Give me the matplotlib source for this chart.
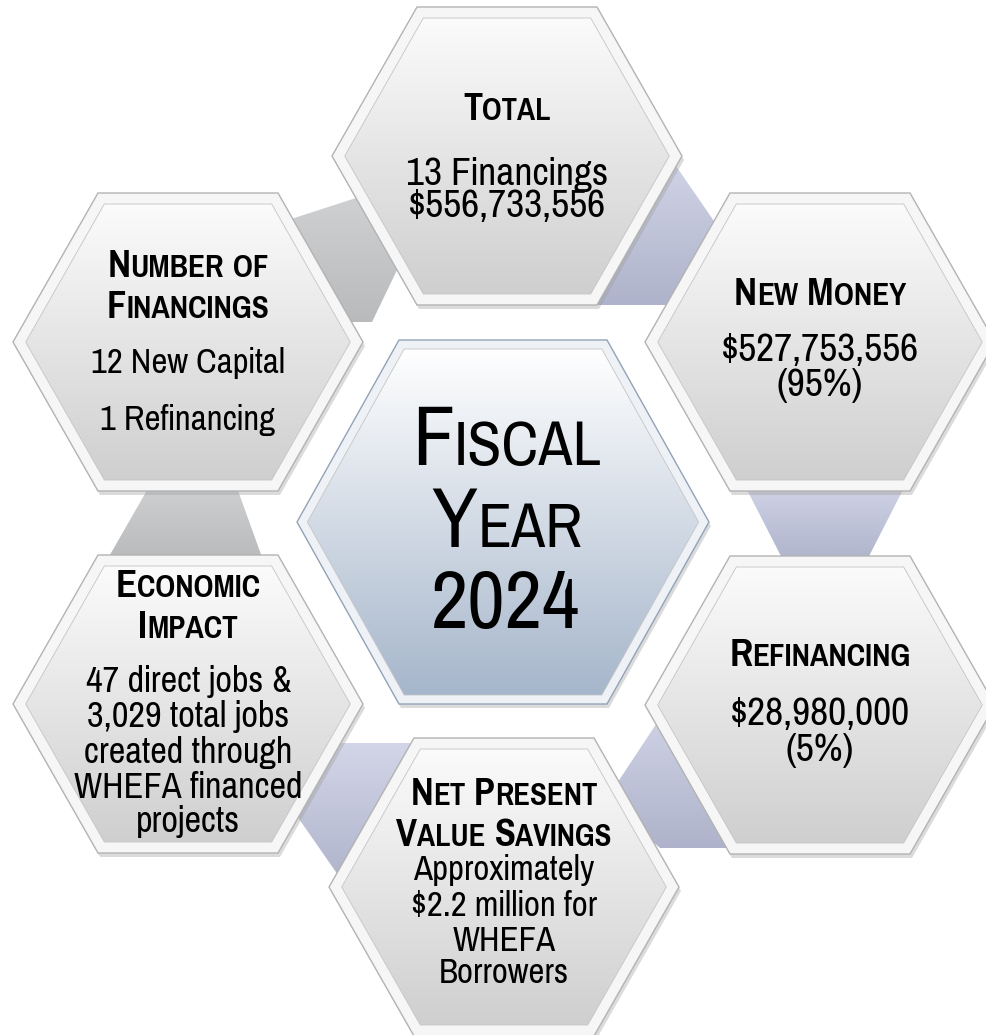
import matplotlib
matplotlib.use('Agg')
import matplotlib.pyplot as plt
from matplotlib.patches import Polygon
from matplotlib.colors import LinearSegmentedColormap
import numpy as np

FONT = ['Pragati Narrow', 'Roboto Condensed', 'Liberation Sans']
ALT_FONT = ['Roboto Condensed', 'Liberation Sans']   # used for '&'

# ---------------- data ----------------
center_lines = ['Fiscal', 'Year', '2024']

total_header = ['Total']
total_body = ['13 Financings', '$556,733,556']

number_header = ['Number of', 'Financings']
number_body = ['12 New Capital', '1 Refinancing']

newmoney_header = ['New Money']
newmoney_body = ['$527,753,556', '(95%)']

refi_header = ['Refinancing']
refi_body = ['$28,980,000', '(5%)']

npv_header = ['Net Present', 'Value Savings']
npv_body = ['Approximately', '$2.2 million for', 'WHEFA', 'Borrowers']

econ_header = ['Economic', 'Impact']
econ_body = ['47 direct jobs &', '3,029 total jobs', 'created through',
             'WHEFA financed', 'projects']

# ---------------- figure ----------------
W, H = 986, 1035
fig = plt.figure(figsize=(W / 100, H / 100), dpi=100)
ax = fig.add_axes([0, 0, 1, 1])
ax.set_xlim(0, W)
ax.set_ylim(H, 0)
ax.axis('off')
fig.patch.set_facecolor('white')


def hex_verts(cx, cy, R, Hh, a):
    return [(cx - R, cy), (cx - a, cy - Hh), (cx + a, cy - Hh),
            (cx + R, cy), (cx + a, cy + Hh), (cx - a, cy + Hh)]


def gradient_poly(verts, top, bottom, z, edge='none', lw=0):
    poly = Polygon(verts, closed=True, facecolor='none', edgecolor=edge, lw=lw, zorder=z + 0.01)
    ax.add_patch(poly)
    clip = Polygon(verts, closed=True, facecolor='none', edgecolor='none')
    ax.add_patch(clip)
    xs = [v[0] for v in verts]
    ys = [v[1] for v in verts]
    cmap = LinearSegmentedColormap.from_list('g', [top, bottom])
    grad = np.linspace(0, 1, 256).reshape(-1, 1)
    im = ax.imshow(grad, cmap=cmap, extent=(min(xs), max(xs), max(ys), min(ys)),
                   aspect='auto', zorder=z, interpolation='bicubic')
    im.set_clip_path(clip)
    return poly


def bevel_hex(cx, cy, R, Hh, a, face_top, face_bot, rim, rim_edge, z, d=11):
    sh = Polygon(hex_verts(cx + 2, cy + 4, R, Hh, a), closed=True,
                 facecolor='#9a9a9a', edgecolor='none', alpha=0.35, zorder=z - 0.2)
    ax.add_patch(sh)
    rimp = Polygon(hex_verts(cx, cy, R, Hh, a), closed=True,
                   facecolor=rim, edgecolor=rim_edge, lw=1.0, zorder=z)
    ax.add_patch(rimp)
    gradient_poly(hex_verts(cx, cy, R - 1.155 * d, Hh - d, a - 0.577 * d),
                  face_top, face_bot, z + 0.1, edge='#c4c4c4', lw=0.6)


# connectors (hidden partly behind outer hexagons)
gray_top, gray_bot = '#cfd0d2', '#b9babc'
blue_top, blue_bot = '#d3d6e8', '#aeb3cb'
connectors = [
    ([(285, 221), (356, 198), (398, 268), (372, 322), (340, 322)], gray_top, gray_bot),
    ([(665, 150), (727, 240), (700, 305), (590, 305)], blue_top, blue_bot),
    ([(742, 480), (908, 480), (866, 562), (784, 562)], blue_top, blue_bot),
    ([(672, 700), (760, 848), (660, 848), (606, 800)], blue_top, blue_bot),
    ([(320, 743), (430, 743), (345, 885), (290, 806)], blue_top, blue_bot),
    ([(150, 485), (236, 485), (263, 560), (107, 560)], gray_top, gray_bot),
]
for verts, c1, c2 in connectors:
    gradient_poly(verts, c1, c2, 1)

# outer hexagons
R_o, H_o, A_o = 175, 149, 90
outer_centers = {
    'total': (507, 156),
    'number': (188, 342),
    'newmoney': (820, 342),
    'econ': (188, 704),
    'refi': (820, 705),
    'npv': (504, 887),
}
for key, (cx, cy) in outer_centers.items():
    bevel_hex(cx, cy, R_o, H_o, A_o, '#fbfbfb', '#cfcfcf', '#f6f6f6', '#b3b3b3', 3)

# center hexagon
bevel_hex(503, 522, 206, 182, 104, '#ffffff', '#a6b6cb', '#eef2f7', '#93a3b6', 3, d=9)

# ---------------- text ----------------
fig.canvas.draw()
renderer = fig.canvas.get_renderer()


def text_width(s, size, weight, family=FONT):
    t = ax.text(0, 0, s, fontsize=size, family=family, fontweight=weight)
    w = t.get_window_extent(renderer).width
    t.remove()
    return w


def space_width(size, weight, family=FONT):
    return text_width('n n', size, weight, family) - text_width('nn', size, weight, family)


def draw_runs(x, y, runs):
    """runs: list of (text, size, weight, family); ' ' text means a space."""
    widths = []
    for s, size, weight, fam in runs:
        if s.strip() == '':
            widths.append(space_width(size, weight, fam) * len(s))
        else:
            widths.append(text_width(s, size, weight, fam))
    xc = x - sum(widths) / 2
    for (s, size, weight, fam), w in zip(runs, widths):
        if s.strip():
            ax.text(xc, y, s, fontsize=size, family=fam, fontweight=weight,
                    ha='left', va='baseline', color='black', zorder=10)
        xc += w


def small_caps(x, y, s, size, ratio=0.8, weight='bold'):
    runs = []
    for ch in s:
        if ch == ' ':
            kind, c, sz = 'space', ch, size
        elif ch.isupper() or ch.isdigit():
            kind, c, sz = 'big', ch, size
        else:
            kind, c, sz = 'small', ch.upper(), size * ratio
        if runs and runs[-1][4] == kind:
            runs[-1][0] += c
        else:
            runs.append([c, sz, weight, FONT, kind])
    draw_runs(x, y, [r[:4] for r in runs])


def plain(x, y, s, size):
    if '&' in s:
        parts = s.split('&')
        runs = []
        for i, p in enumerate(parts):
            core = p.strip()
            lead = p[:len(p) - len(p.lstrip())]
            trail = p[len(p.rstrip()):]
            if lead:
                runs.append((lead, size, 'normal', FONT))
            if core:
                runs.append((core, size, 'normal', FONT))
            if trail:
                runs.append((trail, size, 'normal', FONT))
            if i < len(parts) - 1:
                runs.append(('&', size * 0.9, 'normal', ALT_FONT))
        draw_runs(x, y, runs)
    else:
        ax.text(x, y, s, fontsize=size, family=FONT, ha='center', va='baseline',
                color='black', zorder=10)


# center
small_caps(507, 465, center_lines[0], 66, ratio=0.74, weight='normal')
small_caps(507, 547, center_lines[1], 66, ratio=0.74, weight='normal')
plain(506, 628, center_lines[2], 64)

# total
cx, cy = outer_centers['total']
small_caps(cx, 120, total_header[0], 30)
for yb, s in zip([185, 217], total_body):
    plain(cx, yb, s, 31)

# number
cx, cy = outer_centers['number']
for yb, s in zip([277, 318], number_header):
    small_caps(cx, yb, s, 30.5)
for yb, s in zip([373, 430], number_body):
    plain(cx, yb, s, 27.3)

# new money
cx, cy = outer_centers['newmoney']
small_caps(cx, 305, newmoney_header[0], 30.5)
for yb, s in zip([361, 396], newmoney_body):
    plain(cx, yb, s, 31)

# refinancing
cx, cy = outer_centers['refi']
small_caps(cx, 666, refi_header[0], 30.5)
for yb, s in zip([725, 761], refi_body):
    plain(cx, yb, s, 31)

# economic impact
cx, cy = outer_centers['econ']
for yb, s in zip([597, 638], econ_header):
    small_caps(cx, yb, s, 30.5)
for yb, s in zip([692, 727, 763, 798, 832], econ_body):
    plain(cx, yb, s, 28.5)

# npv
cx, cy = outer_centers['npv']
for yb, s in zip([805, 846], npv_header):
    small_caps(cx, yb, s, 30)
for yb, s in zip([880, 916, 951, 983], npv_body):
    plain(cx, yb, s, 27.3)

fig.savefig('out.png', dpi=100, facecolor='white')
